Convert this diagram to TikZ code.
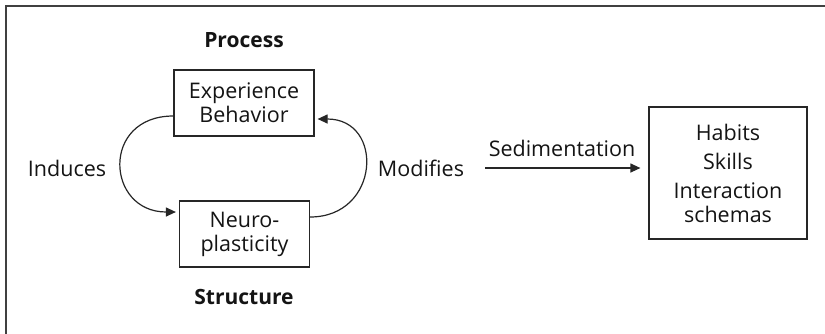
\documentclass[tikz,border=0pt]{standalone}
\usepackage{fontspec}
\setmainfont{Open Sans}
\usetikzlibrary{arrows.meta,calc}
\begin{document}
\begin{tikzpicture}[x=1pt,y=-1pt,
  ink/.style={draw=black!85, line width=1.2pt},
  txt/.style={font=\fontsize{21.5}{24}\selectfont, text=black!92, inner sep=0pt},
  box/.style={ink, txt, fill=white, align=center},
  head/.style={txt, font=\fontsize{21}{24}\selectfont\bfseries},
  tip/.style={-{Triangle[length=10pt,width=9pt]}}
]
\useasboundingbox (0,0) rectangle (825,333);
\fill[white] (0,0) rectangle (825,333);
% outer frame
\draw[draw=black!75, line width=1.5pt] (6,340) -- (6,6) -- (830,6);

% cycle of process and structure
\node[head] (process) at (244,40) {Process};
\node[box, minimum width=140pt, minimum height=66pt] (exp) at (244,103) {Experience\\Behavior};
\node[box, minimum width=130pt, minimum height=66pt] (neuro) at (244.5,234) {Neuro-\\plasticity};
\node[head] (structure) at (244,297) {Structure};
\node[txt] (induces) at (67,168) {Induces};
\node[txt] (modifies) at (421,168) {Modifies};

\draw[ink, tip, shorten >=3pt] ($(exp.west)+(0,13)$) .. controls +(-73,0) and +(-73,0) .. ($(neuro.west)+(0,-22)$);
\draw[ink, tip, shorten >=3pt] ($(neuro.east)+(0,-17)$) .. controls +(70,0) and +(70,0) .. ($(exp.east)+(0,16)$);

% sedimentation into lasting patterns
\node[box, minimum width=158pt, minimum height=132pt] (habits) at (728,173)
  {Habits\\[5pt]Skills\\[5pt]Interaction\\schemas};
\node[txt] (sed) at (562,148) {Sedimentation};
\coordinate (sedstart) at (485,168);
\draw[ink, tip, shorten >=8pt] (sedstart) -- (sedstart -| habits.west);
\end{tikzpicture}
\end{document}
